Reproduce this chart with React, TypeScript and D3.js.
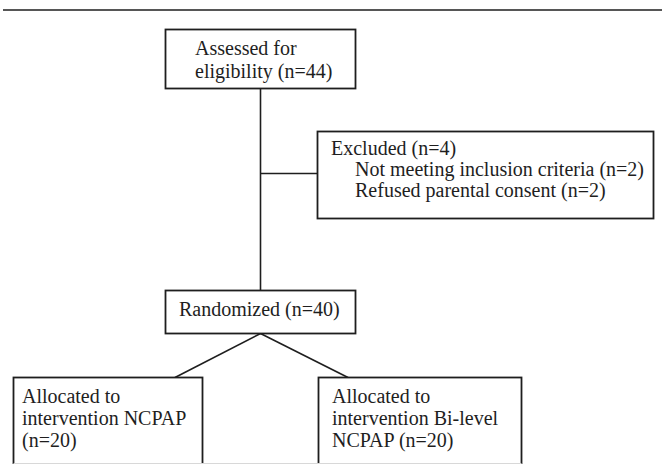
import React, { useRef, useEffect } from "react";
import * as d3 from "d3";

// box texts
const assessedLines = ["Assessed for", "eligibility (n=44)"];
const excludedLines = [
    "Excluded (n=4)",
    "Not meeting inclusion criteria (n=2)",
    "Refused parental consent (n=2)",
];
const excludedIndent = [0, 1, 1];
const randomizedLines = ["Randomized (n=40)"];
const ncpapLines = ["Allocated to", "intervention NCPAP", "(n=20)"];
const bilevelLines = ["Allocated to", "intervention Bi-level", "NCPAP (n=20)"];

type Box = {
    id: string;
    lines: string[];
    indent?: number[];
    x: number;
    y: number;
    w: number;
    h: number;
    tx: number;
    ty: number;
    lh: number;
};

const W = 664;
const H = 464;
const INK = "#1e1e1e";

const App: React.FC = () => {
    const ref = useRef<SVGSVGElement | null>(null);

    useEffect(() => {
        if (!ref.current) return;
        const svg = d3.select(ref.current);
        svg.selectAll("*").remove();

        const boxes: Box[] = [
            { id: "assessed", lines: assessedLines, x: 165.5, y: 29.5, w: 190, h: 59, tx: 195, ty: 55, lh: 23 },
            { id: "excluded", lines: excludedLines, indent: excludedIndent, x: 317.5, y: 131.5, w: 336, h: 87, tx: 331, ty: 155, lh: 21 },
            { id: "randomized", lines: randomizedLines, x: 165.5, y: 290.5, w: 190, h: 43, tx: 179, ty: 316, lh: 22 },
            { id: "ncpap", lines: ncpapLines, x: 13.5, y: 377.5, w: 189, h: 110, tx: 22, ty: 403, lh: 22 },
            { id: "bilevel", lines: bilevelLines, x: 318.5, y: 377.5, w: 203, h: 110, tx: 332, ty: 403, lh: 22 },
        ];
        const byId = (id: string) => boxes.find(b => b.id === id)!;
        const cx = (b: Box) => b.x + b.w / 2;

        // top rule
        svg.append("line")
            .attr("x1", 3).attr("x2", 662)
            .attr("y1", 10).attr("y2", 10)
            .attr("stroke", INK).attr("stroke-width", 1.6);

        const a = byId("assessed");
        const e = byId("excluded");
        const r = byId("randomized");
        const n = byId("ncpap");
        const bl = byId("bilevel");
        const spineX = cx(a);
        const branchY = e.y + 42;

        const link = d3.line<[number, number]>();
        const links: [number, number][][] = [
            [[spineX, a.y + a.h], [spineX, r.y]],
            [[spineX, branchY], [e.x, branchY]],
            [[cx(r), r.y + r.h], [175, n.y]],
            [[cx(r), r.y + r.h], [348, bl.y]],
        ];
        svg.append("g")
            .selectAll("path")
            .data(links)
            .enter()
            .append("path")
            .attr("d", d => link(d))
            .attr("fill", "none")
            .attr("stroke", INK)
            .attr("stroke-width", 1.6);

        const g = svg.append("g")
            .selectAll("g")
            .data(boxes)
            .enter()
            .append("g");

        g.append("rect")
            .attr("x", d => d.x)
            .attr("y", d => d.y)
            .attr("width", d => d.w)
            .attr("height", d => d.h)
            .attr("fill", "#fff")
            .attr("stroke", INK)
            .attr("stroke-width", 1.8);

        g.each(function (d) {
            d3.select(this)
                .selectAll("text")
                .data(d.lines)
                .enter()
                .append("text")
                .attr("x", (_, i) => d.tx + (d.indent ? d.indent[i] * 24 : 0))
                .attr("y", (_, i) => d.ty + i * d.lh)
                .attr("font-family", "'Liberation Serif', 'Times New Roman', serif")
                .attr("font-size", 20)
                .attr("fill", INK)
                .text(t => t);
        });

        // faint cut edge at the bottom of the page
        svg.append("line")
            .attr("x1", n.x).attr("x2", bl.x + bl.w)
            .attr("y1", 463.5).attr("y2", 463.5)
            .attr("stroke", "#d8d8d8").attr("stroke-width", 1);
    }, []);

    return (
        <svg
            ref={ref}
            width={W}
            height={H}
            style={{ position: "absolute", left: 0, top: 0, background: "#fff" }}
        />
    );
};

export default App;
